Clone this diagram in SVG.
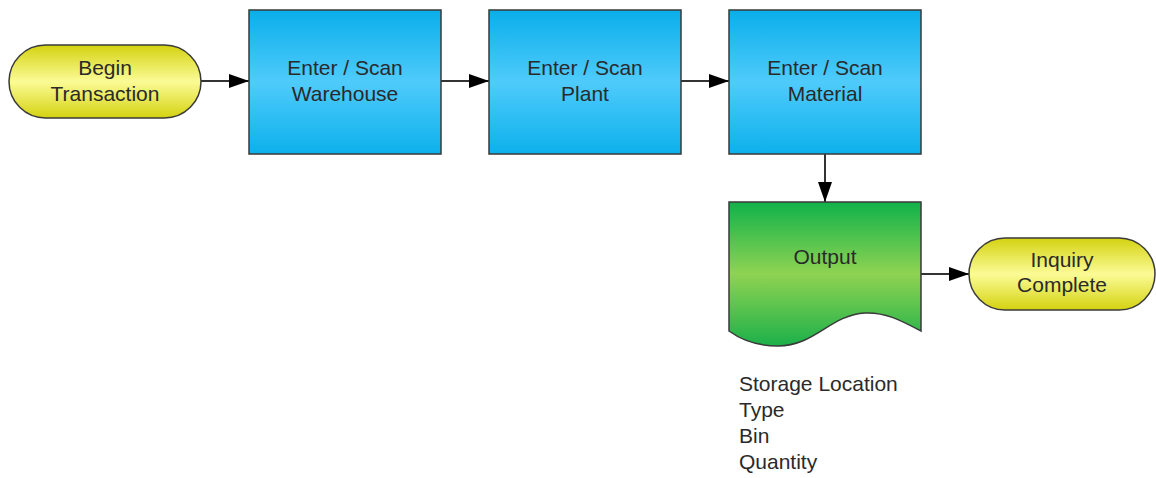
<svg xmlns="http://www.w3.org/2000/svg" width="1156" height="478" viewBox="0 0 1156 478">
<defs>
<linearGradient id="gBlue" x1="0" y1="0" x2="0" y2="1">
<stop offset="0" stop-color="#0aaeea"/>
<stop offset="0.5" stop-color="#4fcbfb"/>
<stop offset="1" stop-color="#0db0ec"/>
</linearGradient>
<linearGradient id="gYel" x1="0" y1="0" x2="0" y2="1">
<stop offset="0" stop-color="#d4d210"/>
<stop offset="0.5" stop-color="#fbfb96"/>
<stop offset="1" stop-color="#d4d210"/>
</linearGradient>
<linearGradient id="gGreen" x1="0" y1="0" x2="0" y2="1">
<stop offset="0" stop-color="#10b24a"/>
<stop offset="0.5" stop-color="#8fd352"/>
<stop offset="1" stop-color="#1cb04a"/>
</linearGradient>
<marker id="arr" markerWidth="20" markerHeight="14" refX="20" refY="7" orient="auto" markerUnits="userSpaceOnUse">
<path d="M0,0 L20,7 L0,14 Z" fill="#000"/>
</marker>
</defs>
<style>
.sh{stroke:#3a3a3a;stroke-width:1.5}
.t{font-family:"Liberation Sans",Arial,sans-serif;font-size:21px;fill:#2a2a2a;text-anchor:middle}
.l{font-family:"Liberation Sans",Arial,sans-serif;font-size:21px;fill:#2a2a2a}
.c{stroke:#333;stroke-width:2;fill:none;marker-end:url(#arr)}
</style>
<rect width="1156" height="478" fill="#fff"/>
<g id="connectors">
<line class="c" x1="201" y1="81" x2="249" y2="81"/>
<line class="c" x1="441" y1="81" x2="489" y2="81"/>
<line class="c" x1="681" y1="81" x2="729" y2="81"/>
<line class="c" x1="825" y1="154" x2="825" y2="202"/>
<line class="c" x1="921" y1="274" x2="969" y2="274"/>
</g>
<g id="begin">
<rect class="sh" x="9" y="45" width="192" height="73" rx="36.5" fill="url(#gYel)"/>
<text class="t" x="105" y="75">Begin</text>
<text class="t" x="105" y="101">Transaction</text>
</g>
<g id="warehouse">
<rect class="sh" x="249" y="10" width="192" height="144" fill="url(#gBlue)"/>
<text class="t" x="345" y="75">Enter / Scan</text>
<text class="t" x="345" y="101">Warehouse</text>
</g>
<g id="plant">
<rect class="sh" x="489" y="10" width="192" height="144" fill="url(#gBlue)"/>
<text class="t" x="585" y="75">Enter / Scan</text>
<text class="t" x="585" y="101">Plant</text>
</g>
<g id="material">
<rect class="sh" x="729" y="10" width="192" height="144" fill="url(#gBlue)"/>
<text class="t" x="825" y="75">Enter / Scan</text>
<text class="t" x="825" y="101">Material</text>
</g>
<g id="output">
<path class="sh" d="M729,202 H921 V331 C900,320 885,312 865,313 C830,315 815,346 778,346 C755,346 740,339 729,331 Z" fill="url(#gGreen)"/>
<text class="t" x="825" y="264">Output</text>
</g>
<g id="inquiry">
<rect class="sh" x="969" y="238" width="186" height="72" rx="36" fill="url(#gYel)"/>
<text class="t" x="1062" y="267">Inquiry</text>
<text class="t" x="1062" y="292">Complete</text>
</g>
<g id="note">
<text class="l" x="739" y="391">Storage Location</text>
<text class="l" x="739" y="417">Type</text>
<text class="l" x="739" y="443">Bin</text>
<text class="l" x="739" y="469">Quantity</text>
</g>
</svg>
